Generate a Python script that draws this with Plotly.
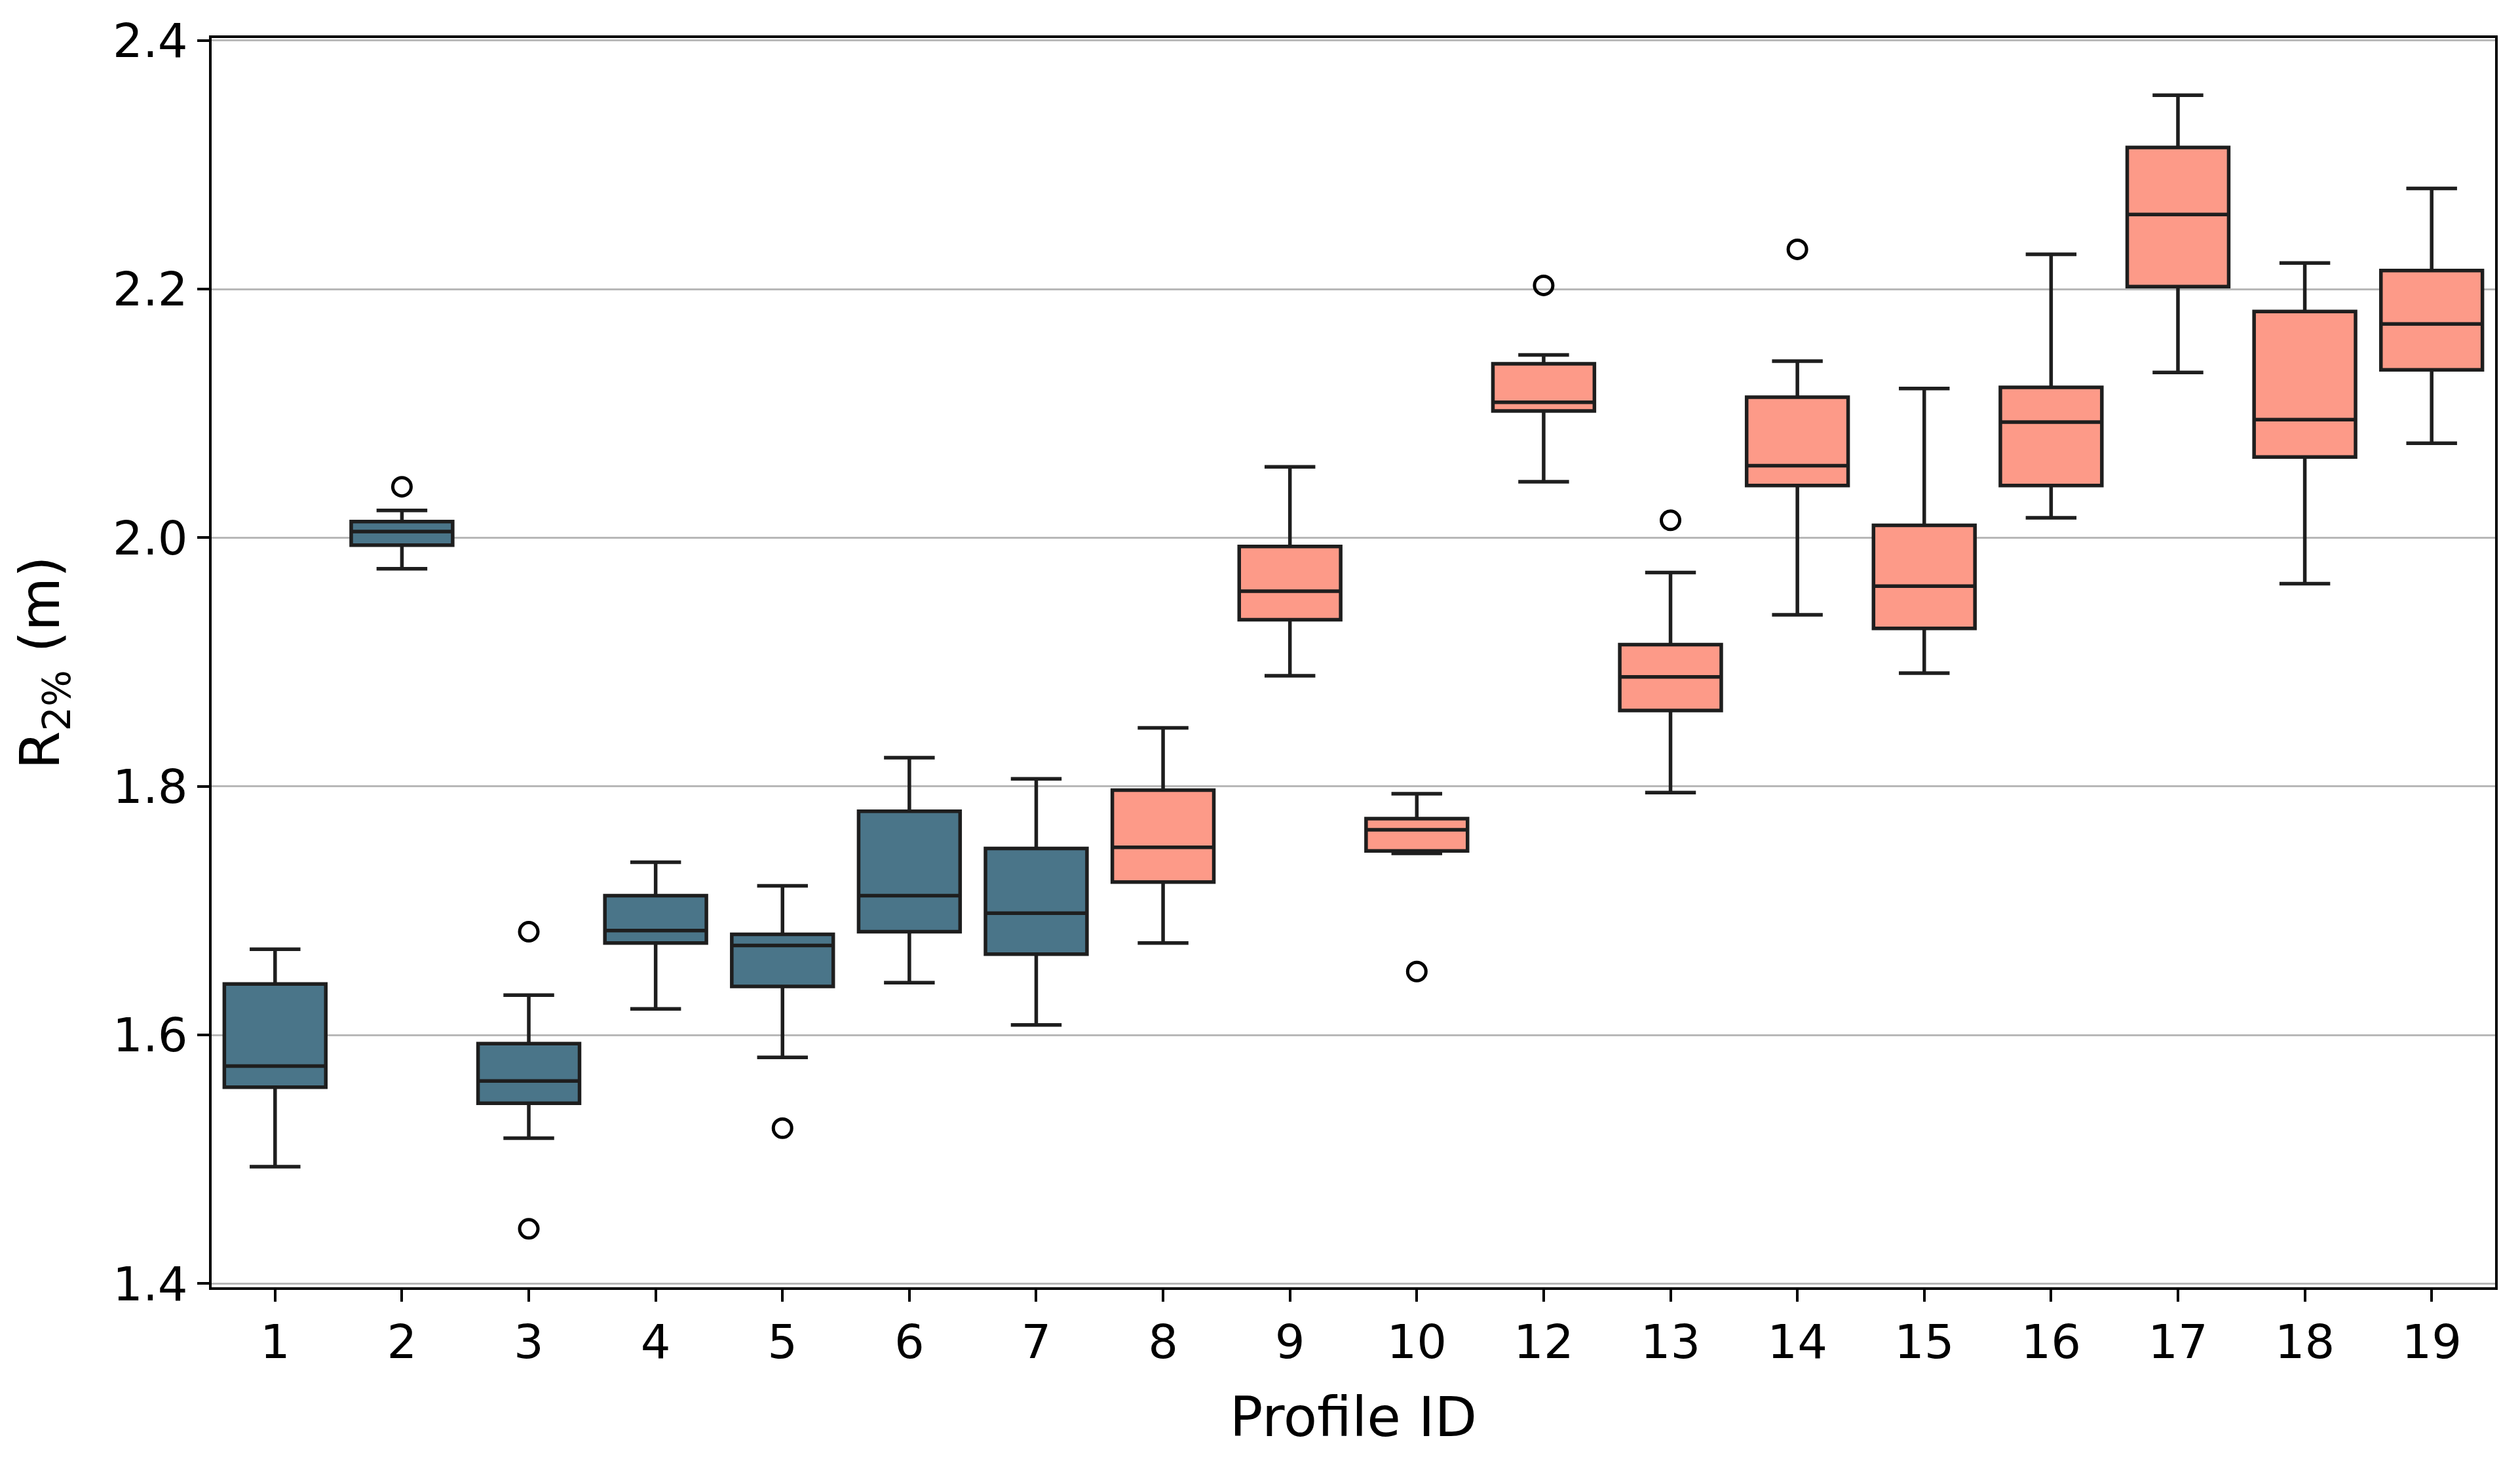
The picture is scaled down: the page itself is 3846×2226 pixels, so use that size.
import plotly.graph_objects as go

categories = ["1", "2", "3", "4", "5", "6", "7", "8", "9", "10",
              "12", "13", "14", "15", "16", "17", "18", "19"]
lower = [1.494, 1.975, 1.517, 1.621, 1.582, 1.642, 1.608, 1.674, 1.889, 1.746,
         2.045, 1.795, 1.938, 1.891, 2.016, 2.133, 1.963, 2.076]
q1 = [1.558, 1.994, 1.545, 1.674, 1.639, 1.683, 1.665, 1.723, 1.934, 1.748,
      2.102, 1.861, 2.042, 1.927, 2.042, 2.202, 2.065, 2.135]
median = [1.575, 2.005, 1.563, 1.684, 1.672, 1.712, 1.698, 1.751, 1.957, 1.765,
          2.109, 1.888, 2.058, 1.961, 2.093, 2.260, 2.095, 2.172]
q3 = [1.641, 2.013, 1.593, 1.712, 1.681, 1.780, 1.750, 1.797, 1.993, 1.774,
      2.140, 1.914, 2.113, 2.010, 2.121, 2.314, 2.182, 2.215]
upper = [1.669, 2.022, 1.632, 1.739, 1.720, 1.823, 1.806, 1.847, 2.057, 1.794,
         2.147, 1.972, 2.142, 2.120, 2.228, 2.356, 2.221, 2.281]
outlier_x = ["2", "3", "3", "5", "10", "12", "13", "14"]
outlier_y = [2.041, 1.683, 1.444, 1.525, 1.651, 2.203, 2.014, 2.232]
group_a_count = 7
color_a = "#4a7589"
color_b = "#fd9a88"

fig = go.Figure()

def add_group(sl, color):
    fig.add_trace(go.Box(
        x=categories[sl], q1=q1[sl], median=median[sl], q3=q3[sl],
        lowerfence=lower[sl], upperfence=upper[sl],
        fillcolor=color, line=dict(color="#1e1e1e", width=5.5),
        width=0.8, whiskerwidth=0.5, boxpoints=False, showlegend=False,
    ))

add_group(slice(0, group_a_count), color_a)
add_group(slice(group_a_count, None), color_b)

fig.add_trace(go.Scatter(
    x=outlier_x, y=outlier_y, mode="markers", showlegend=False,
    marker=dict(symbol="circle-open", size=28, color="black", line=dict(width=5)),
))

fig.update_layout(
    width=3846, height=2226,
    paper_bgcolor="white", plot_bgcolor="white",
    margin=dict(l=315, r=46, t=44, b=270),
    font=dict(family="DejaVu Sans", size=72, color="black"),
    boxmode="overlay",
)
fig.update_xaxes(
    type="category", categoryorder="array", categoryarray=categories,
    range=[-0.5, len(categories) - 0.5],
    showline=True, linecolor="black", linewidth=4, mirror=True,
    ticks="outside", ticklen=18, tickwidth=4, tickcolor="black",
    showgrid=False, tickfont=dict(size=72),
    title=dict(text="Profile ID", font=dict(size=84), standoff=45),
)
fig.update_yaxes(
    range=[1.397, 2.402], tickvals=[1.4, 1.6, 1.8, 2.0, 2.2, 2.4], tickformat=".1f",
    showline=True, linecolor="black", linewidth=4, mirror=True,
    ticks="outside", ticklen=18, tickwidth=4, tickcolor="black",
    showgrid=True, gridcolor="#b8b8b8", gridwidth=3, zeroline=False,
    tickfont=dict(size=72),
    title=dict(text="R<sub>2%</sub> (m)", font=dict(size=84), standoff=55),
)

fig.write_html("out.html")
